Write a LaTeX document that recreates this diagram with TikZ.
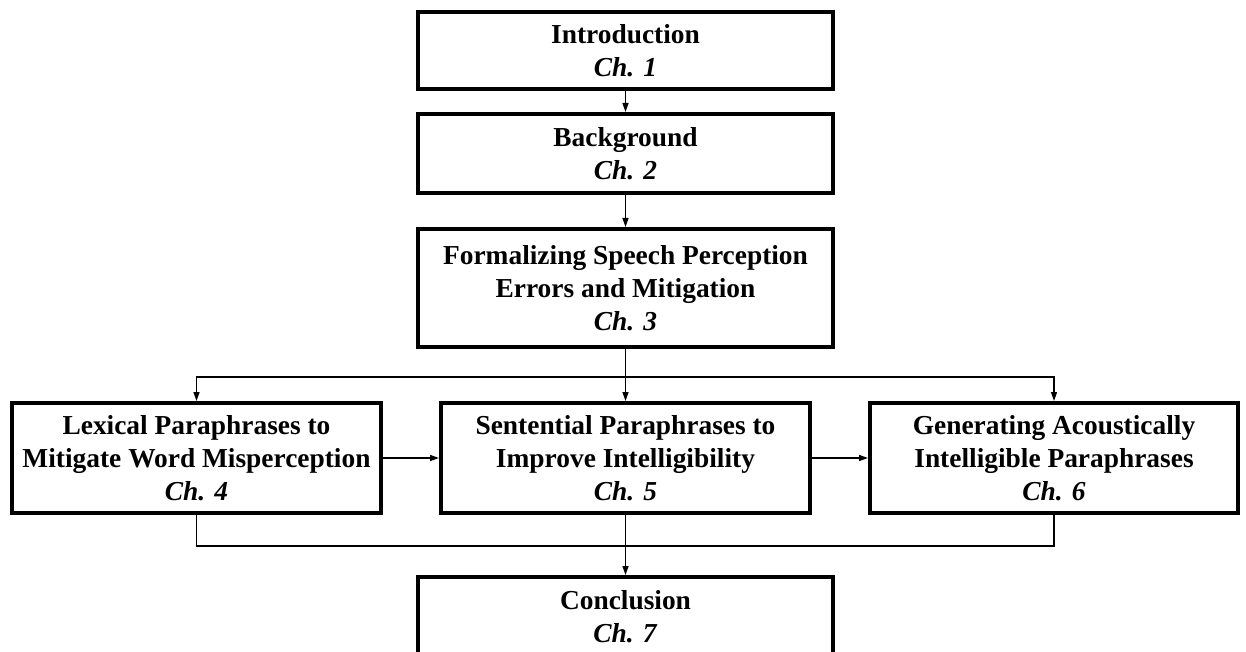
\documentclass[tikz,border=0pt]{standalone}
\usepackage{fontspec}
\setmainfont{Liberation Serif}
\usetikzlibrary{arrows.meta}
\begin{document}
\begin{tikzpicture}[x=1pt,y=-1pt,
  chapbox/.style={draw=black,line width=4pt,fill=white,inner sep=0pt,align=center,
    font=\fontsize{27.4}{33}\selectfont\bfseries},
  link/.style={line width=1.4pt,draw=black},
  arr/.style={link,-{Triangle[length=9pt,width=6pt]}}]
\path[use as bounding box] (0,0) rectangle (1246,652);
\clip (0,0) rectangle (1246,652);

% chapter boxes, positioned by their centres
\node[chapbox,minimum width=415pt,minimum height=77pt] (intro) at (625.5,50.5)
  {Introduction\\\textit{Ch. 1}};
\node[chapbox,minimum width=415pt,minimum height=79pt] (back) at (625.5,153.5)
  {Background\\\textit{Ch. 2}};
\node[chapbox,minimum width=415pt,minimum height=118pt] (form) at (625.5,288)
  {Formalizing Speech Perception\\Errors and Mitigation\\\textit{Ch. 3}};
\node[chapbox,minimum width=369pt,minimum height=110pt] (lex) at (196.5,458)
  {Lexical Paraphrases to\\Mitigate Word Misperception\\\textit{Ch. 4}};
\node[chapbox,minimum width=369pt,minimum height=110pt] (sent) at (625.5,458)
  {Sentential Paraphrases to\\Improve Intelligibility\\\textit{Ch. 5}};
\node[chapbox,minimum width=368pt,minimum height=110pt] (gen) at (1054,458)
  {Generating Acoustically\\Intelligible Paraphrases\\\textit{Ch. 6}};
\node[chapbox,minimum width=415pt,minimum height=79pt] (concl) at (625.5,616.5)
  {Conclusion\\\textit{Ch. 7}};

% branching and merging points
\coordinate (split) at (625.5,377);
\coordinate (merge) at (625.5,546);

% connectors
\draw[arr] (intro.south) -- (back.north);
\draw[arr] (back.south) -- (form.north);
\draw[arr] (form.south) -- (sent.north);
\draw[arr] (split) -| (lex.north);
\draw[arr] (split) -| (gen.north);
\draw[arr] (lex.east) -- (sent.west);
\draw[arr] (sent.east) -- (gen.west);
\draw[link] (lex.south) |- (merge) -| (gen.south);
\draw[arr] (sent.south) -- (concl.north);
\end{tikzpicture}
\end{document}
